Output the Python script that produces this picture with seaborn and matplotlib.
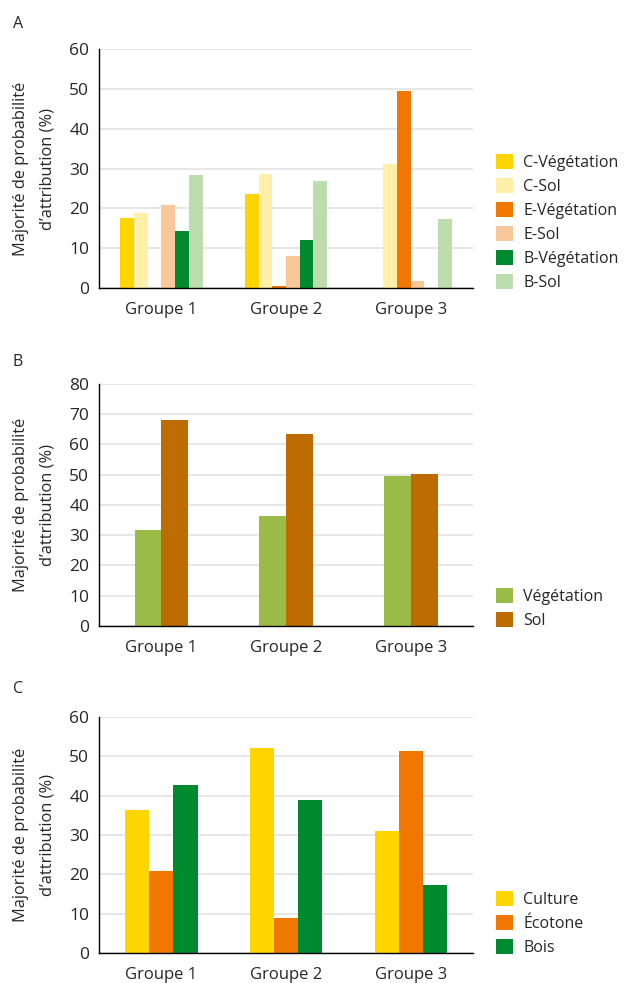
import matplotlib
matplotlib.use("Agg")
import matplotlib.pyplot as plt
from matplotlib.patches import Patch
import pandas as pd
import seaborn as sns

# --- data ---
groups = ["Groupe 1", "Groupe 2", "Groupe 3"]

# panel A
series_a = ["C-Végétation", "C-Sol", "E-Végétation", "E-Sol", "B-Végétation", "B-Sol"]
c_veg = [17.6, 23.6, 0.0]
c_sol = [18.9, 28.7, 31.2]
e_veg = [0.0, 0.6, 49.5]
e_sol = [20.9, 8.1, 1.8]
b_veg = [14.4, 12.1, 0.0]
b_sol = [28.4, 26.9, 17.4]
colors_a = ["#FFD500", "#FFEFA8", "#F07800", "#F8C89B", "#008A30", "#BEDDAE"]

# panel B
series_b = ["Végétation", "Sol"]
vegetation = [31.8, 36.4, 49.6]
sol = [68.1, 63.5, 50.3]
colors_b = ["#9BBB48", "#BC6C00"]

# panel C
series_c = ["Culture", "Écotone", "Bois"]
culture = [36.4, 52.2, 31.1]
ecotone = [20.9, 9.0, 51.4]
bois = [42.8, 39.0, 17.4]
colors_c = ["#FFD500", "#F07800", "#008A30"]


def long_df(names, columns):
    rows = []
    for name, vals in zip(names, columns):
        for g, v in zip(groups, vals):
            rows.append({"groupe": g, "serie": name, "valeur": v})
    return pd.DataFrame(rows)


sns.set_style("white")
plt.rcParams['font.family'] = ['Open Sans', 'DejaVu Sans']

fig = plt.figure(figsize=(6.27, 9.83), dpi=100)
H = 983.0

panels = [
    # letter, names, columns, colors, ymax, bar width, axes rect, letter baseline (px)
    ("A", series_a, [c_veg, c_sol, e_veg, e_sol, b_veg, b_sol], colors_a, 60, 0.66,
     [0.158, 0.707, 0.5965, 0.2431], 28),
    ("B", series_b, [vegetation, sol], colors_b, 80, 0.43,
     [0.158, 0.3632, 0.5965, 0.2462], 366),
    ("C", series_c, [culture, ecotone, bois], colors_c, 60, 0.58,
     [0.158, 0.0305, 0.5965, 0.2401], 693),
]

for letter, names, cols, cols_colors, ymax, w, rect, ly in panels:
    ax = fig.add_axes(rect)
    df = long_df(names, cols)
    sns.barplot(data=df, x="groupe", y="valeur", hue="serie", hue_order=names,
                palette=cols_colors, width=w, errorbar=None, saturation=1,
                linewidth=0, ax=ax, legend=False)
    ax.set_ylim(0, ymax)
    ax.set_yticks(range(0, ymax + 1, 10))
    ax.set_xlim(-0.5, 2.5)
    ax.yaxis.grid(True, color="#E3E3E3", linewidth=1.2)
    ax.set_axisbelow(True)
    for s in ["top", "right"]:
        ax.spines[s].set_visible(False)
    for s in ["left", "bottom"]:
        ax.spines[s].set_color("black")
        ax.spines[s].set_linewidth(1.0)
    ax.tick_params(axis="y", length=4, width=1, color="black", labelsize=12.5, pad=3)
    ax.tick_params(axis="x", length=0, labelsize=12, pad=10)
    ax.set_xlabel("")
    ax.set_ylabel("Majorité de probabilité\nd’attribution (%)", fontsize=11.8,
                  linespacing=1.85, labelpad=10)
    fig.text(13 / 627, 1 - ly / H, letter, fontsize=11.5, ha="left", va="baseline")
    handles = [Patch(facecolor=c, edgecolor="none", label=n) for n, c in zip(names, cols_colors)]
    ax.legend(handles=handles, loc="lower left", bbox_to_anchor=(1.045, -0.04),
              frameon=False, fontsize=11.5, handlelength=1.05, handleheight=1.05,
              handletextpad=0.65, labelspacing=0.45, borderaxespad=0)

fig.savefig("out.png", dpi=100)
